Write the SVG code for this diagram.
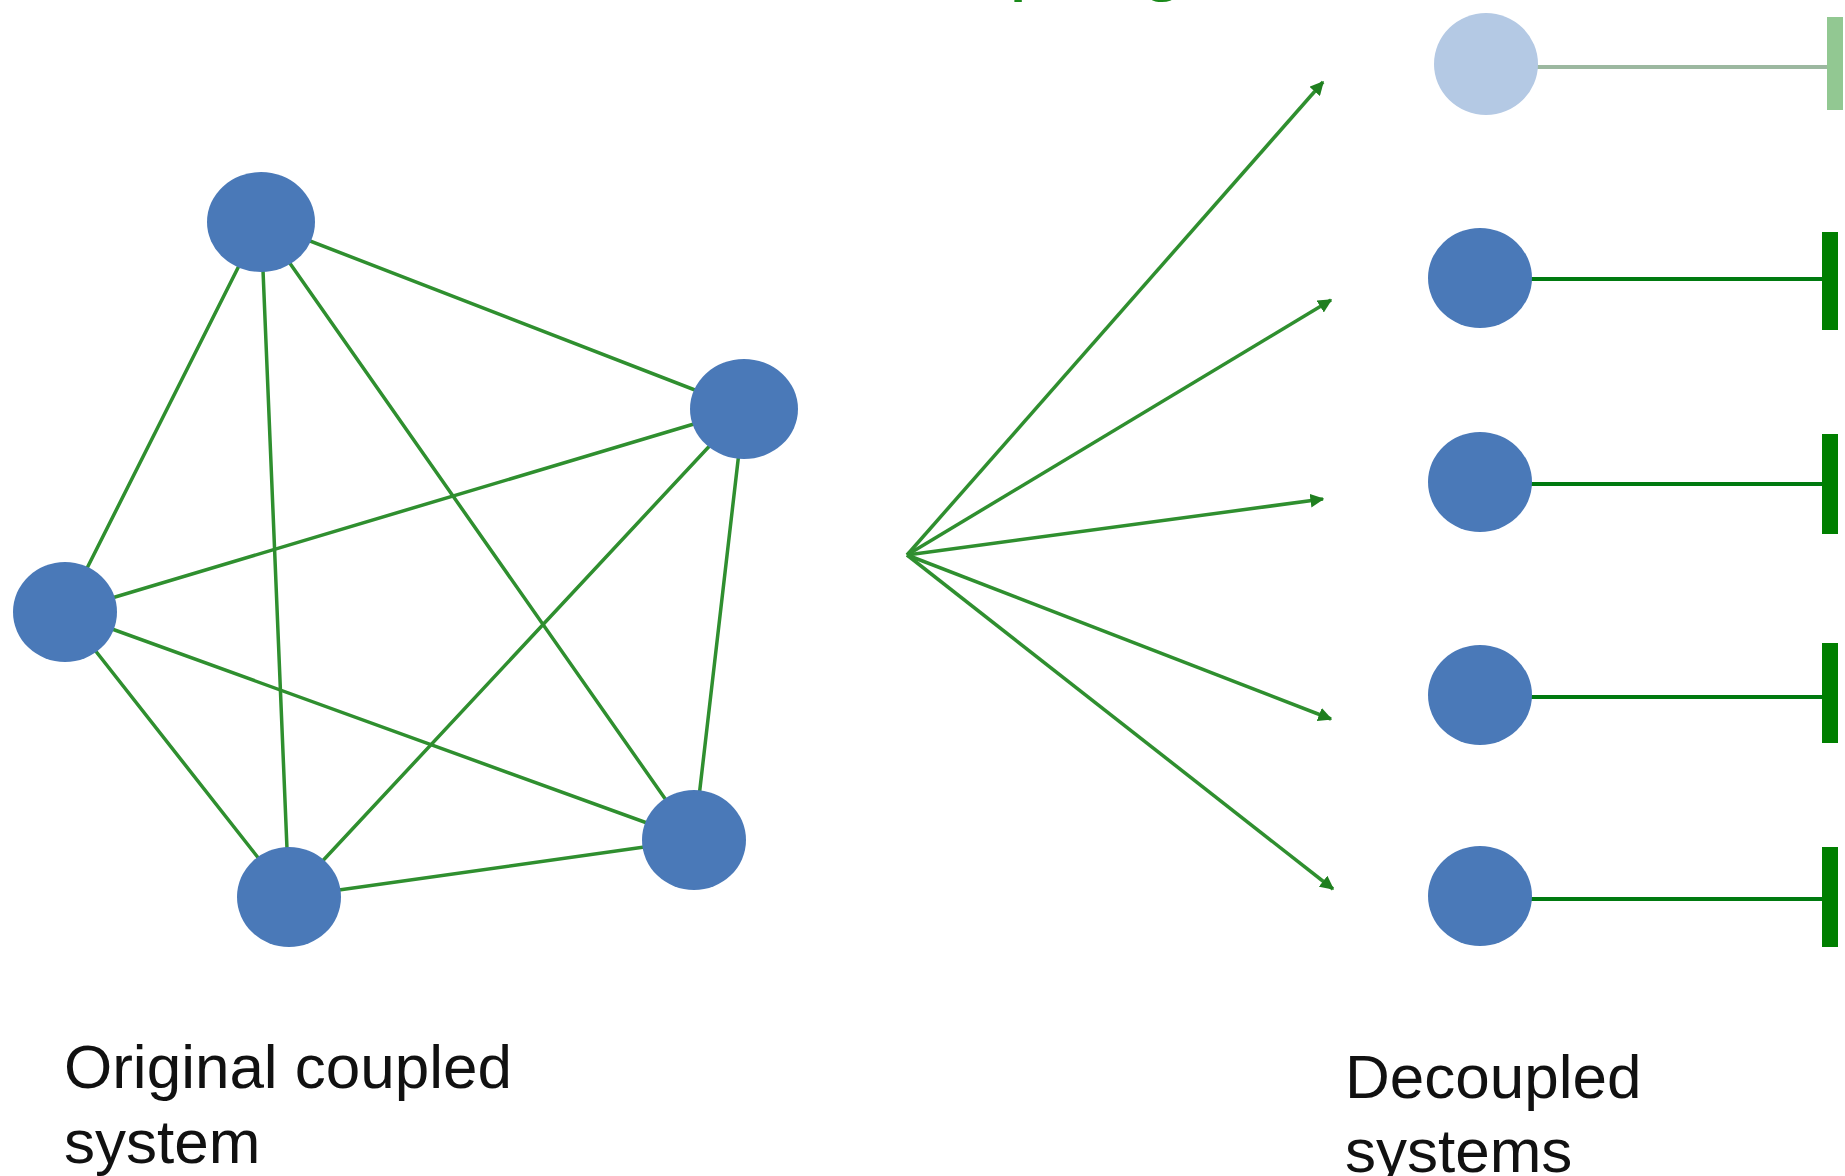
<svg xmlns="http://www.w3.org/2000/svg" width="1845" height="1176" viewBox="0 0 1845 1176">
<style>
.edge{stroke:#2f8f2f;stroke-width:3.5;fill:none;stroke-linecap:round}
.arrow{stroke:#2f8f2f;stroke-width:3.5;fill:none;marker-end:url(#ah)}
.hline{stroke:#007a10;stroke-width:4}
.bar{fill:#007f00}
.node{fill:#4a79b8}
.label{font-family:"Liberation Sans",Arial,sans-serif;font-size:62px;fill:#111}
.title{font-family:"Liberation Sans",Arial,sans-serif;font-size:84px;fill:#1a8a1a}
</style>
<defs>
<marker id="ah" viewBox="0 0 10 10" refX="9" refY="5" markerWidth="4" markerHeight="4" orient="auto" markerUnits="strokeWidth">
<path d="M0,0 L10,5 L0,10 z" fill="#1f7f1f"/>
</marker>
</defs>
<rect width="1845" height="1176" fill="#ffffff"/>
<text class="title" x="766" y="-15">Decoupling</text>
<g id="connectors">
<line class="edge" x1="261" y1="222" x2="744" y2="409"/>
<line class="edge" x1="261" y1="222" x2="65" y2="612"/>
<line class="edge" x1="261" y1="222" x2="289" y2="897"/>
<line class="edge" x1="261" y1="222" x2="694" y2="840"/>
<line class="edge" x1="744" y1="409" x2="65" y2="612"/>
<line class="edge" x1="744" y1="409" x2="289" y2="897"/>
<line class="edge" x1="744" y1="409" x2="694" y2="840"/>
<line class="edge" x1="65" y1="612" x2="694" y2="840"/>
<line class="edge" x1="65" y1="612" x2="289" y2="897"/>
<line class="edge" x1="289" y1="897" x2="694" y2="840"/>
<line class="arrow" x1="907" y1="555" x2="1323" y2="82"/>
<line class="arrow" x1="907" y1="555" x2="1331" y2="300"/>
<line class="arrow" x1="907" y1="555" x2="1323" y2="499"/>
<line class="arrow" x1="907" y1="555" x2="1331" y2="719"/>
<line class="arrow" x1="907" y1="555" x2="1333" y2="889"/>
<line x1="1535" y1="67" x2="1827" y2="67" stroke="#9cb8a0" stroke-width="4"/>
<line class="hline" x1="1530" y1="279" x2="1822" y2="279"/>
<line class="hline" x1="1530" y1="484" x2="1822" y2="484"/>
<line class="hline" x1="1530" y1="697" x2="1822" y2="697"/>
<line class="hline" x1="1530" y1="899" x2="1822" y2="899"/>
</g>
<g id="node-top"><ellipse class="node" cx="261" cy="222" rx="54" ry="50"/></g>
<g id="node-right"><ellipse class="node" cx="744" cy="409" rx="54" ry="50"/></g>
<g id="node-bottom-right"><ellipse class="node" cx="694" cy="840" rx="52" ry="50"/></g>
<g id="node-bottom-left"><ellipse class="node" cx="289" cy="897" rx="52" ry="50"/></g>
<g id="node-left"><ellipse class="node" cx="65" cy="612" rx="52" ry="50"/></g>
<g id="dec-1"><ellipse cx="1486" cy="64" rx="52" ry="51" fill="#b4c9e4"/><rect x="1827" y="17" width="16" height="93" fill="#92c892"/></g>
<g id="dec-2"><ellipse class="node" cx="1480" cy="278" rx="52" ry="50"/><rect class="bar" x="1822" y="232" width="16" height="98"/></g>
<g id="dec-3"><ellipse class="node" cx="1480" cy="482" rx="52" ry="50"/><rect class="bar" x="1822" y="434" width="16" height="100"/></g>
<g id="dec-4"><ellipse class="node" cx="1480" cy="695" rx="52" ry="50"/><rect class="bar" x="1822" y="643" width="16" height="100"/></g>
<g id="dec-5"><ellipse class="node" cx="1480" cy="896" rx="52" ry="50"/><rect class="bar" x="1822" y="847" width="16" height="100"/></g>
<g id="label-left">
<text class="label" x="64" y="1088">Original coupled</text>
<text class="label" x="64" y="1163">system</text>
</g>
<g id="label-right">
<text class="label" x="1345" y="1098">Decoupled</text>
<text class="label" x="1345" y="1172">systems</text>
</g>
</svg>
